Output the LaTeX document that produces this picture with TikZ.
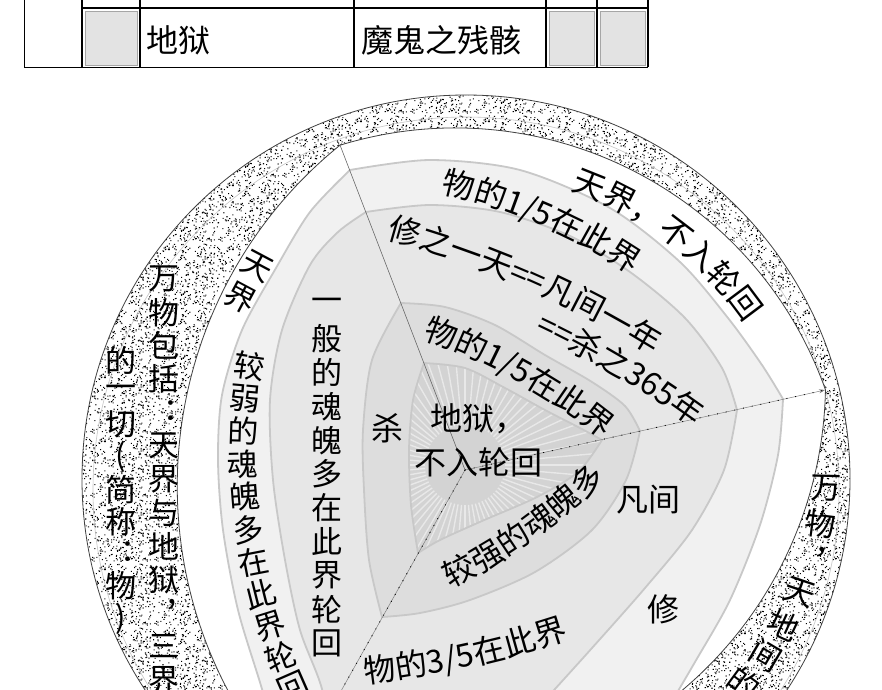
\documentclass[tikz,border=0pt]{standalone}
\usepackage{fontspec}
\newfontfamily\cjk{Noto Sans CJK SC}
\usetikzlibrary{calc,decorations.text,arrows.meta,patterns}
\definecolor{layA}{HTML}{F1F1F1}
\definecolor{layB}{HTML}{E7E7E7}
\definecolor{layC}{HTML}{DDDDDD}
\definecolor{layD}{HTML}{D3D3D3}
\definecolor{edgeg}{HTML}{C8C8C8}
\definecolor{rayg}{HTML}{E8E8E8}
\definecolor{cellg}{HTML}{E3E3E3}
\newcommand\af{\cjk\fontsize{32}{32}\selectfont}
\pgfdeclarepatternformonly{stipple}{\pgfpointorigin}{\pgfpoint{64pt}{64pt}}{\pgfpoint{64pt}{64pt}}{%
  \pgfmathsetseed{4242}%
  \foreach \k in {1,...,360}{%
    \pgfmathsetmacro{\px}{rnd*62.8}%
    \pgfmathsetmacro{\py}{rnd*62.8}%
    \pgfpathrectangle{\pgfpoint{\px pt}{\py pt}}{\pgfpoint{1.1pt}{1.1pt}}%
    \pgfusepath{fill}%
  }%
}
\newcommand\pathLA{plot[smooth] coordinates {(350,170) (430,160) (520,170) (610,208) (680,262) (728,318) (762,365) (783,399)}
 -- plot[smooth] coordinates {(783,399) (778,455) (760,525) (730,600) (695,662) (655,730)}
 -- (560,820) -- (290,820)
 -- plot[smooth] coordinates {(285,770) (262,689) (238,610) (223,530) (218,460) (222,395) (242,330) (276,268) (310,212) (350,170)} -- cycle}
\newcommand\pathLB{plot[smooth] coordinates {(366,212) (430,205) (500,212) (570,236) (630,272) (685,318) (722,368) (737,410)}
 -- plot[smooth] coordinates {(737,410) (724,470) (692,530) (645,588) (592,648) (545,700)}
 -- (480,800) -- (340,800)
 -- plot[smooth] coordinates {(335,760) (322,689) (300,630) (285,560) (273,480) (270,400) (282,330) (310,265) (338,232) (366,212)} -- cycle}
\newcommand\pathLC{plot[smooth] coordinates {(401,303) (445,307) (495,325) (545,355) (592,382) (625,406) (640,431)}
 -- plot[smooth] coordinates {(640,431) (626,480) (592,530) (535,572) (470,600) (420,613) (382,617)}
 -- plot[smooth] coordinates {(382,617) (369,560) (364,490) (363,430) (372,360) (401,303)} -- cycle}
\newcommand\pathLD{plot[smooth] coordinates {(424,363) (465,368) (505,388) (545,410) (580,428) (602,440)}
 -- plot[smooth] coordinates {(602,440) (578,472) (537,497) (482,521) (440,540) (418,553)}
 -- plot[smooth] coordinates {(418,553) (411,505) (409,450) (413,400) (424,363)} -- cycle}
\begin{document}
\begin{tikzpicture}[x=1pt, y=-1pt,
  txt/.style={font=\cjk\fontsize{31}{31}\selectfont, inner sep=0pt},
  lbl/.style={font=\cjk\fontsize{32}{44}\selectfont, inner sep=0pt, align=center},
  tbl/.style={font=\cjk\fontsize{32}{32}\selectfont, inner sep=0pt, anchor=west},
  layer/.style={draw=edgeg, line width=1.8},
  ray/.style={draw=rayg, line width=1.4},
  tline/.style={line width=2},
  arctext/.style={decorate, decoration={text along path, text align=center, text={#1}}}
]
\useasboundingbox (0,0) rectangle (882,689);
\clip (0,0) rectangle (882,689);
% ---------- table ----------
\foreach \xa/\xb in {85/137,549/594,600/645}
  \fill[cellg, draw=black!35, line width=0.5] (\xa,11) rectangle (\xb,65);
\draw[line width=0.9] (24,0) -- (24,67.5) -- (648,67.5);
\foreach \xx in {82,140,354,546,597,648} \draw[tline] (\xx,0) -- (\xx,67);
\draw[tline] (81,8) -- (649,8);
\node[tbl] (tA) at (146,40) {地狱};
\node[tbl] (tB) at (361,40) {魔鬼之残骸};
% ---------- outer stippled disc ----------
\coordinate (Co) at (466,479);
\fill[white] (Co) circle[radius=384];
\fill[pattern=stipple] (Co) circle[radius=384];
\draw[gray!45, line width=0.6] (466,490) circle[radius=373];
\draw[black!75, line width=0.8] (Co) circle[radius=384];
% ---------- white curved triangle ----------
\path[fill=white, draw=black!75, line width=0.8]
  ($(455,521)+(-107:393)$) arc[start angle=-107, end angle=-19.5, radius=393]
  arc[start angle=1.1, end angle=112.3, radius=403]
  arc[start angle=142.1, end angle=231.1, radius=438] -- cycle;
% ---------- layers ----------
\path[layer, fill=layA] \pathLA;
\path[layer, fill=layB] \pathLB;
\path[layer, fill=layC] \pathLC;
\begin{scope}
  \clip \pathLD;
  \fill[layD] (0,0) rectangle (882,689);
  \foreach \a in {0,5,...,355} \draw[ray] ($(465,465)+(\a:40)$) -- ($(465,465)+(\a:220)$);
\end{scope}
\path[layer] \pathLD;
% ---------- dividing lines ----------
\coordinate (O) at (465,470);
\coordinate (V1) at (340,145);
\coordinate (V2) at (825,390);
\coordinate (V3) at (318,732);
\draw[black!60, line width=0.6] (V1) -- (O);
\draw[black!50, line width=0.5, -{Stealth[length=6pt,width=4pt]}] (O) -- (V2);
\draw[black, line width=0.9, dash pattern=on 0.9pt off 8pt] (O) -- (V2);
\draw[black!50, line width=0.5] (O) -- (V3);
\draw[black, line width=0.9, dash pattern=on 0.9pt off 7pt] (O) -- (V3);
% ---------- curved texts ----------
\path[arctext={|\af|天界，不入轮回}] ($(455,521)+(-90:351)$) arc[start angle=-90, end angle=-15, radius=351];
\path[arctext={|\af|物的1/5在此界}] ($(323,728)+(-96.7:548)$) arc[start angle=-96.7, end angle=-36.7, radius=548];
\path[arctext={|\af|修之一天==凡间一年}] ($(130,1193)+(-81.5:988)$) arc[start angle=-81.5, end angle=-51.5, radius=988];
\path[arctext={|\af|==杀之365年}] ($(130,1193)+(-74.25:951)$) arc[start angle=-74.25, end angle=-44.25, radius=951];
\path[arctext={|\af|物的1/5在此界}] ($(231,895)+(-85.9:588)$) arc[start angle=-85.9, end angle=-35.9, radius=588];
\path[arctext={|\af|较强的魂魄多}] ($(179.4,40.2)+(79.7:612)$) arc[start angle=79.7, end angle=29.7, radius=612];
\path[arctext={|\af|物的3/5在此界}] ($(250.9,-321.6)+(97.6:1012)$) arc[start angle=97.6, end angle=57.6, radius=1012];
% ---------- vertical texts ----------
\foreach \ch [count=\i from 0] in {万,物,包,括,︓,天,界,与,地,狱,︐,三,界}
  \node[txt] (sa\i) at (164,{279+33.4*\i}) {\ch};
\foreach \ch [count=\i from 0] in {的,一,切,{(},简,称,︓,物,{)}}
  \node[txt] (sb\i) at (121,{360+32.3*\i}) {\ch};
\foreach \ch [count=\i from 0] in {万,物,︐,天,地,间,的}{
  \pgfmathsetmacro\myang{1.4+5.82*\i}
  \pgfmathsetmacro\myr{360-2.5*\i}
  \pgfmathsetmacro\myrot{-\myang}
  \node[txt, rotate=\myrot] (rs\i) at ($(466,479)+(\myang:\myr)$) {\ch};
}
\foreach \ch [count=\i from 0] in {较,弱,的,魂,魄,多,在,此,界,轮,回}{
  \pgfmathsetmacro\myang{188.2-3.19*\i}
  \pgfmathsetmacro\myrot{180-\myang}
  \node[txt, rotate=\myrot] (va\i) at ($(834,450)+(\myang:591)$) {\ch};
}
\foreach \ch [count=\i from 0] in {一,般,的,魂,魄,多,在,此,界,轮,回}
  \node[txt] (vb\i) at (327,{305+33.8*\i}) {\ch};
\node[txt, rotate=-28] (tj1) at (257,266) {天};
\node[txt, rotate=-28] (tj2) at (240,298) {界};
% ---------- labels ----------
\node[lbl] (sha) at (387,428) {杀};
\node[lbl] (hell) at (478,440) {地狱，\\不入轮回};
\node[lbl] (fan) at (648,500) {凡间};
\node[lbl] (xiu) at (663,609) {修};
\end{tikzpicture}
\end{document}
